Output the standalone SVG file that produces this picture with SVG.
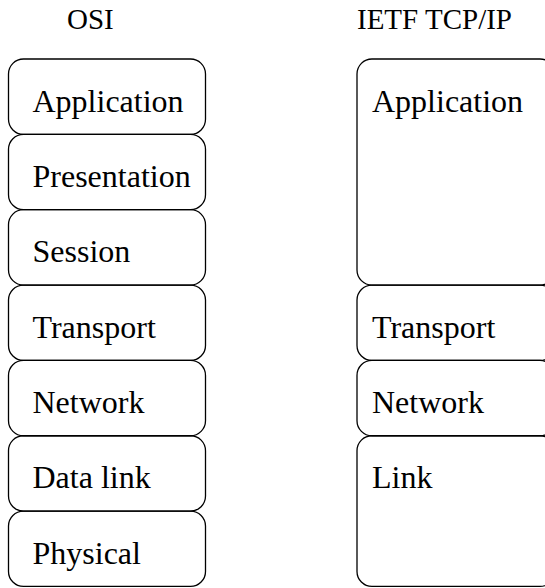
<svg xmlns="http://www.w3.org/2000/svg" width="545" height="588" viewBox="0 0 545 588">
<style>
.b{fill:none;stroke:#000;stroke-width:1.3}
.t{font-family:"Liberation Serif","Times New Roman",serif;font-size:32px;fill:#000}
.h{font-family:"Liberation Serif","Times New Roman",serif;font-size:29px;fill:#000}
</style>
<rect width="545" height="588" fill="#fff"/>
<g id="titles">
<text class="h" x="67" y="29">OSI</text>
<text class="h" x="357" y="29">IETF TCP/IP</text>
</g>
<g id="osi-application"><rect class="b" x="8.5" y="59" width="197" height="75.35" rx="15"/><text class="t" x="32.5" y="111.5">Application</text></g>
<g id="osi-presentation"><rect class="b" x="8.5" y="134.35" width="197" height="75.35" rx="15"/><text class="t" x="32.5" y="186.85">Presentation</text></g>
<g id="osi-session"><rect class="b" x="8.5" y="209.7" width="197" height="75.35" rx="15"/><text class="t" x="32.5" y="262.2">Session</text></g>
<g id="osi-transport"><rect class="b" x="8.5" y="285.05" width="197" height="75.35" rx="15"/><text class="t" x="32.5" y="337.55">Transport</text></g>
<g id="osi-network"><rect class="b" x="8.5" y="360.4" width="197" height="75.35" rx="15"/><text class="t" x="32.5" y="412.9">Network</text></g>
<g id="osi-datalink"><rect class="b" x="8.5" y="435.75" width="197" height="75.35" rx="15"/><text class="t" x="32.5" y="488.25">Data link</text></g>
<g id="osi-physical"><rect class="b" x="8.5" y="511.1" width="197" height="75.35" rx="15"/><text class="t" x="32.5" y="563.6">Physical</text></g>
<g id="tcpip-application"><rect class="b" x="357" y="59" width="198" height="226.05" rx="15"/><text class="t" x="372" y="111.5">Application</text></g>
<g id="tcpip-transport"><rect class="b" x="357" y="285.05" width="198" height="75.35" rx="15"/><text class="t" x="372" y="337.55">Transport</text></g>
<g id="tcpip-network"><rect class="b" x="357" y="360.4" width="198" height="75.35" rx="15"/><text class="t" x="372" y="412.9">Network</text></g>
<g id="tcpip-link"><rect class="b" x="357" y="435.75" width="198" height="150.7" rx="15"/><text class="t" x="372" y="488.25">Link</text></g>
<g id="connectors"/>
</svg>
